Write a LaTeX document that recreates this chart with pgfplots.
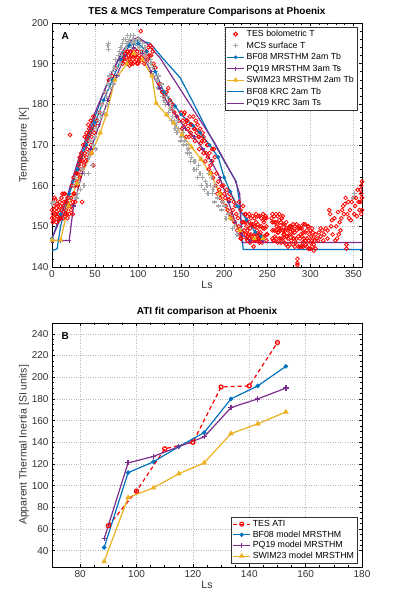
\documentclass[border=0pt]{standalone}
\usepackage{pgfplots}
\pgfplotsset{compat=1.18}
\usepackage{fontspec}
\setmainfont{Liberation Sans}
\definecolor{mblue}{rgb}{0,0.447,0.741}
\definecolor{mpurple}{rgb}{0.494,0.184,0.556}
\definecolor{myellow}{rgb}{0.929,0.694,0.125}
\definecolor{mgray}{rgb}{0.66,0.66,0.66}
\pgfplotsset{
  mstyle/.style={
    scale only axis,
    width=310pt, height=244pt,
    axis line style={line width=0.9pt},
    tick style={black, line width=0.6pt},
    major tick length=3pt, minor tick length=1.8pt,
    tick pos=both, tick align=inside,
    grid=major,
    major grid style={dotted, gray!55, line width=0.5pt},
    ticklabel style={font=\fontsize{10}{12}\selectfont, text=black!80},
    /pgf/number format/assume math mode=true,
    label style={font=\fontsize{10.5}{12}\selectfont, text=black!80},
    title style={font=\fontsize{10}{12}\selectfont\bfseries, yshift=-3pt},
    scaled ticks=false,
  },
  tesmark/.style={only marks, mark=o, red, mark size=1.9pt, line width=0.8pt},
  mcsmark/.style={only marks, mark=+, mgray, mark size=2.4pt, line width=1.3pt},
}
\begin{document}
\begin{tikzpicture}[x=1pt,y=1pt]
\useasboundingbox (0,0) rectangle (400,600);
% ---------------- Panel A ----------------
\begin{axis}[mstyle,
  at={(52pt,333pt)}, anchor=south west,
  xmin=0, xmax=360, ymin=140, ymax=200,
  xtick={0,50,...,350}, ytick={140,150,...,200},
  minor x tick num=4, minor y tick num=4,
  title={TES \& MCS Temperature Comparisons at Phoenix},
  xlabel={Ls}, ylabel={Temperature [K]},
  xlabel style={yshift=3pt}, ylabel style={yshift=-4pt},
  legend style={at={(rel axis cs:0.985,0.985)}, anchor=north east,
    font=\fontsize{8.8}{10}\selectfont, draw=black!80, line width=0.7pt,
    inner sep=1.2pt, row sep=-0.3pt, cells={anchor=west}},
  legend image post style={line width=1.1pt},
]
\addplot[tesmark] coordinates {
(0,152)(0,154)(1,153)(1,156)(2,151.5)(2,155)(3,152)(3,154)(4,153)(4,156.5)(5,151)(5,154.5)(6,152.5)(6,155.5)(7,153)(8,151.5)(8,154)(9,156)(10,152)(10,155)(11,157)(12,153)(12,158)(13,155)(14,156)(15,153)(15,158)(16,154)(17,156)(18,152)(18,157)(19,155)
(20,153)(21,155)(21,172.5)(22,154)(22,157)(23,160)(24,153)(24,156)(25,162)(26,158)(27,160)(28,157)(28,163)(29,161)(30,163)
(31,165)(32,162)(32,167)(33,164)(34,168)(35,156)(35,166)(36,170)(37,165)(38,168)(38,172)(39,170)(40,167)(40,173)(41,169)(42,171)(42,175)(43,168)(44,173)(45,170)(45,176)(46,172)(47,174)(48,165)(48,177)(50,175)
(52,176)(55,178)(58,180)(62,183)(66,186)(70,187)(74,189)
(80,191)(82,190)(84,192)(85,190.5)(86,191.5)(87,193)(88,190)(89,192)(90,191)(91,193)(92,190)(93,192)(94,191)(95,193)(96,190.5)(97,192)(98,191)(99,193)(100,190)(101,192)(102,191)(103,198)(104,193)(105,191)(106,192.5)(108,192)(110,193)(112,194)(114,194.5)(115,192)(117,193)(118,190)
(120,189)(122,186)(125,185)(128,183)(130,182)(133,183)(135,184)(137,181)(138,179)(140,180)(142,178)(145,177)(147,176)(150,178)(152,176)(153,177.5)(155,175)(156,172)(157,176)(158,174)(160,177)(161,173)(162,175)(163,172)(165,174)(166,171)(167,176)(168,173)(170,172)(171,169)(172,174)(173,170.5)(175,173)(176,168)(177,171)(178,166)(180,170)(181,167)(182,164)(183,168)(185,163)(186,166)(187,162)(188,169)(190,160)(192,158)(193,161)(195,157)(197,160)(198,156)(200,158)(202,155)(203,159)(205,156.5)(207,153)(208,157)(210,154)(212,151)(213,155)(215,149)(216,152)(217,156)(218,148)(219,154)(220,147)(221,151)(222,155)(223,149)(224,153)
(226,147)(226,150)(227,152.5)(228,148)(229,151)(230,146)(230,149.5)(231,152)(232,147.5)(233,150.5)(234,145)(235,148)(235,152)(236,150)(237,146.5)(238,149)(239,152.5)(240,147)(241,150)(242,148.5)(243,152)(244,146)(245,149.5)(246,151)(247,147.5)(248,152.5)(249,150)(250,148)
(255,152)(256,149)(257,146.5)(258,151)(259,147.5)(260,153)(261,150)(262,146)(263,148.5)(264,151.5)(265,149)(266,147)(267,152)(268,150.5)(269,148)(270,146)(271,149)(272,151)(273,147.5)(274,145)(275,149.5)(276,148)(277,150)(278,146.5)(279,149)(280,150.5)(281,147)(282,148.5)(283,146)(284,149)(285,142)(285,141)(285,140.5)(286,147.5)(287,150)(288,145)(289,148)(290,149.5)(291,146)(292,150.5)(293,147)(294,148.5)(295,145.5)(296,149)(297,150)(298,146.5)(299,148)(300,144.5)(301,147.5)(302,145)(303,148.5)(304,144)(305,146.5)(306,148)(308,147)(310,148.5)(312,147.5)(314,149)(316,148)(318,149.5)
(322,154)(323,153)(324,150)(325,151.5)(328,152)(330,150)(331,147)(332,153.5)(333,148)(334,151)(335,149)(337,154)(338,155)(340,155.5)(341,157)(342,145.5)(342,144.5)(343,153)(345,152)(346,154)(348,156)(350,157)(351,153)(352,155)(354,152.5)(356,156)(357,154)(358,159)(359,160)(360,157)(360,161)(359,153)
};
\addlegendentry{TES bolometric T}
\addplot[mcsmark] coordinates {
(0,155.7)(2,156)(20,157)(22,155)(25,160)(27,162)(28,157)(30,158)(32,161)(33,159)(35,164)(37,160)(38,163)(40,166)(42,163)(43,167)(44,168)(45,171)(47,165)(48,170)(50,172)(51,169)(52,174)(54,176)(55,178)(57,177)(58,180)(60,181)(61,178)(62,183)(63,182)(64,180)(65,185)(65,194.5)(66,195)(66,193.5)(67,187)(68,184)(69,186)(70,188)(71,185)(72,189)(74,191)(75,189)(76,187)(77,192)(78,193)(79,190)(80,194)(81,192)(82,195)(83,196)(84,193)(85,196)(86,194)(87,195)(88,197)(89,195.5)(90,196)(91,197)(92,194)(93,195)(94,196)(95,197)(96,195.5)(97,195)(98,196)(99,194.5)(100,195)(101,196)(102,194)(103,195.5)(104,193)(105,195)(106,193)(107,192)(108,194)(110,191)(111,192.5)(112,190)(114,191)(115,190)(117,189)(118,187)(120,188)(122,186)(123,184)(124,187)(125,184)(127,185)(128,182)(130,181)(131,183)(132,180)(134,182)(135,178)(136,180)(137,179)(139,176)(140,177)(141,179)(142,176)(143,174)(144,175)(145,173)(146,176)(147,174)(149,171)(150,172)(151,174)(152,173)(153,170)(154,171)(156,170)(157,168)(158,169)(160,168)(161,166)(162,167)(164,166)(165,164)(166,166)(168,164)(169,162)(170,165)(172,163)(174,160)(175,162)(177,159)(178,161)(180,160)(181,158)(182,163)(184,160)(185,162)(186,158)(187,159)(189,156)(190,160)(192,157)(193,155)(195,158)(197,154)(198,156)(200,155)(202,152)(205,153)(208,152)(210,149.5)(212,150)(215,148)(220,149)(350,157)(351,158)
};
\addlegendentry{MCS surface T}
\addplot[tesmark, forget plot] coordinates {
(1,151)(3,157)(5,153)(7,155)(9,152)(11,154)(13,152)(14,158)(16,156)(17,153)(19,157)(23,155)(25,158)(27,156)(30,160)(33,166)(36,167)(39,166)(41,172)(43,174)(46,168)(49,173)
(83,191)(85,192.5)(88,193)(90,189.5)(92,192)(94,190)(96,192)(99,190)(101,190.5)(104,191.5)(107,190)(111,191)(113,192)(116,194)
(151,174)(154,178)(156,176)(159,172)(161,175)(164,177)(166,174)(169,175)(171,172)(174,171)(176,172)(179,168)(181,170)(184,165)(186,169)(189,167)(191,163)(194,159)(196,158)(199,160)(201,157)(204,154)(206,158)(209,152)(211,156)(214,153)(217,150)(219,147)(221,148.5)(223,151)
(225,148)(225,151)(225,153)(227,146.5)(227,149)(229,147)(229,153)(231,148)(231,150.5)(233,146.5)(233,152.5)(235,146.5)(235,150)(237,148)(237,151)(237,153)(239,147)(239,150.5)(241,146)(241,148)(241,152.5)(243,147)(243,150)(245,147.5)(245,151.5)(245,153)(247,149.5)(247,152)(249,146.5)(249,148)(249,152)
(256,147)(256,151)(256,153)(258,146.5)(258,149)(258,152.5)(260,147)(260,149)(260,151)(262,148.5)(262,150.5)(262,152.5)(264,147)(264,149.5)(264,153)(266,146)(266,149.5)(266,151)(268,147)(268,149)(268,152.5)(270,148)(270,150.5)
(272,145.5)(272,147.5)(272,149.5)(274,147)(274,149)(276,145.5)(276,150)(278,148)(278,150)(280,145.5)(280,147)(280,149)(282,145)(282,150)(284,147)(284,150.5)
(286,145)(286,149.5)(288,147)(288,149.5)(290,145)(290,147.5)(292,145)(292,148.5)(294,146.5)(294,150.5)(296,145)(296,147)(298,144.5)(298,150)(300,146)(300,149)(302,146.5)(302,149.5)(304,145.5)(304,147.5)(306,144.5)
(309,146.5)(312,149.5)(315,146.5)(320,147)(320,149)(326,148)(329,146.5)(336,152)(339,153)(344,156)(347,151.5)(353,157)(355,159)(358,156)(360,154)(359,158)
};
\addplot[mblue, line width=1.2pt, mark=*, mark size=1.2pt] coordinates {
(0,147)(10,153)(20,158)(30,164)(40,170)(50,175.5)(60,181)(70,186)(80,191)(90,194.5)(100,195)(110,193)(120,188)(130,183)(143,179.6)(150,177.5)(164,174.7)(172,173)(183,170)(193,167)(200,162)(207,158.5)(215,155)(226,151.6)(236,148.6)(243,147.5)
};
\addlegendentry{BF08 MRSTHM 2am Tb}
\addplot[mpurple, line width=1.2pt, mark=+, mark size=2pt] coordinates {
(0,146.5)(10,146.5)(20,146.5)(25,155)(35,163)(45,169)(55,175)(65,181)(75,187)(85,192)(95,194)(105,192.5)(115,188)(125,184)(135,180)(145,177)(155,174)(165,172)(175,169)(185,166)(195,162)(205,156)(213,151)(220,148)(230,146.5)(245,146.5)
};
\addlegendentry{PQ19 MRSTHM 3am Ts}
\addplot[myellow, line width=1.2pt, mark=triangle*, mark size=1.9pt] coordinates {
(0,146.6)(10,146.6)(19,155)(29,160.6)(46,168)(56,173)(63,177.4)(73,186)(87,190)(95,192.5)(105,191)(116,187)(121,180.3)(133,177.4)(141,175.4)(151,172.5)(162,169.5)(173,166.5)(184,163)(195,158)(207,152)(218,149)(235,147)(245,147)
};
\addlegendentry{SWIM23 MRSTHM 2am Tb}
\addplot[mblue, line width=1.2pt] coordinates {
(0,144)(6,144.5)(10,150)(20,158)(30,165)(40,171)(50,177)(60,183)(70,188)(80,192)(90,195)(100,195.8)(114,195)(130,191)(149,186.5)(165,180)(183,172.5)(200,166)(214,161)(217,157)(220,150)(222,144.3)(360,144.3)
};
\addlegendentry{BF08 KRC 2am Tb}
\addplot[mpurple, line width=1.2pt] coordinates {
(0,147)(10,152)(20,159)(30,166)(40,172)(50,178)(60,183)(70,188)(80,192.5)(90,195.5)(100,196.5)(110,195)(125.5,191.4)(145,185)(168,177.4)(189,170.5)(212.5,161.4)(218,158)(220.6,146)(360,146)
};
\addlegendentry{PQ19 KRC 3am Ts}
\node[anchor=north west, font=\fontsize{10}{12}\selectfont\bfseries] at (rel axis cs:0.02,0.975) {A};
\end{axis}
% ---------------- Panel B ----------------
\begin{axis}[mstyle,
  at={(52pt,33pt)}, anchor=south west,
  xmin=70, xmax=180, ymin=25, ymax=250,
  xtick={80,100,...,180}, ytick={40,60,...,240},
  minor x tick num=3, minor y tick num=3,
  title={ATI fit comparison at Phoenix},
  xlabel={Ls}, ylabel={Apparent Thermal Inertia [SI units]},
  xlabel style={yshift=3pt}, ylabel style={yshift=-4pt},
  legend style={at={(rel axis cs:0.985,0.015)}, anchor=south east,
    font=\fontsize{8.8}{10}\selectfont, draw=black!80, line width=0.7pt,
    inner sep=1pt, row sep=-1.2pt, cells={anchor=west}},
  legend image post style={line width=1.1pt},
]
\addplot[red, dashed, dash pattern=on 4pt off 3pt, line width=1.2pt, mark=o, mark size=2pt, mark options={solid}] coordinates {
(90,63)(100,95)(110,134)(120,140)(130,191)(140,192)(150,232)
};
\addlegendentry{TES ATI}
\addplot[mblue, line width=1.2pt, mark=*, mark size=1.6pt] coordinates {
(88.5,43)(97,112)(106,122)(115,136)(124,149)(133.5,180)(143,192)(153,210)
};
\addlegendentry{BF08 model MRSTHM}
\addplot[mpurple, line width=1.2pt, mark=+, mark size=2.6pt] coordinates {
(88.5,51)(97,121)(106,127)(115,136)(124,145)(133.5,172)(143,180)(153,190)
};
\addlegendentry{PQ19 model MRSTHM}
\addplot[myellow, line width=1.2pt, mark=triangle*, mark size=2.1pt] coordinates {
(88.5,30)(97,89)(106,98)(115,111)(124,121)(133.5,148)(143,157)(153,168)
};
\addlegendentry{SWIM23 model MRSTHM}
\node[anchor=north west, font=\fontsize{10}{12}\selectfont\bfseries] at (rel axis cs:0.02,0.975) {B};
\end{axis}
\end{tikzpicture}
\end{document}
